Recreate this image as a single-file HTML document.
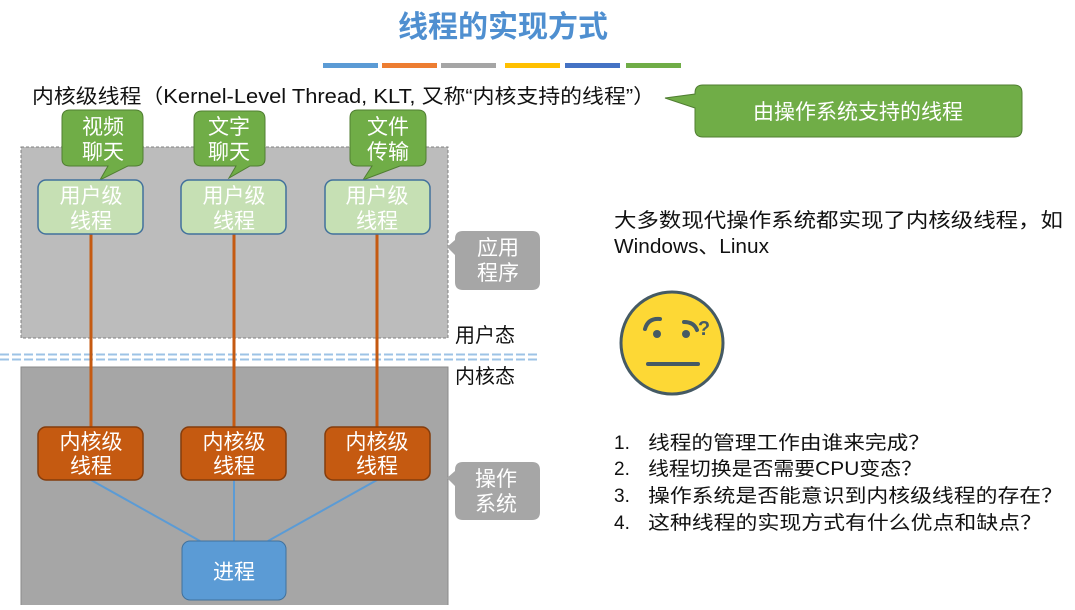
<!DOCTYPE html><html><head><meta charset="utf-8"><style>
body{margin:0;width:1075px;height:605px;overflow:hidden;background:#fff;font-family:"Liberation Sans","Noto Sans CJK SC",sans-serif}
</style></head><body>
<svg width="1075" height="605" xmlns="http://www.w3.org/2000/svg" style="font-family:'Liberation Sans','Noto Sans CJK SC',sans-serif">
<text x="503" y="37" text-anchor="middle" font-size="30" fill="#4f8fd0" font-weight="bold">线程的实现方式</text>
<rect x="323" y="63" width="55" height="5" fill="#5b9bd5"/><rect x="382" y="63" width="55" height="5" fill="#ed7d31"/><rect x="441" y="63" width="55" height="5" fill="#a5a5a5"/><rect x="505" y="63" width="55" height="5" fill="#ffc000"/><rect x="565" y="63" width="55" height="5" fill="#4472c4"/><rect x="626" y="63" width="55" height="5" fill="#70ad47"/>
<text x="32" y="103" font-size="20" fill="#111" textLength="623" lengthAdjust="spacingAndGlyphs">内核级线程（Kernel-Level Thread, KLT, 又称“内核支持的线程”）</text>
<path d="M703 85 H1014 Q1022 85 1022 93 V129 Q1022 137 1014 137 H703 Q695 137 695 129 V108 L665 98 L695 94 V93 Q695 85 703 85Z" fill="#70ad47" stroke="#507e32"/>
<text x="858" y="119" text-anchor="middle" font-size="21" fill="#fff">由操作系统支持的线程</text>
<rect x="21" y="147" width="427" height="191" fill="#bcbcbc" stroke="#808080" stroke-dasharray="3,2"/>
<line x1="0" y1="354.5" x2="540" y2="354.5" stroke="#9dc3e6" stroke-width="2" stroke-dasharray="9,3"/>
<line x1="0" y1="359.5" x2="540" y2="359.5" stroke="#9dc3e6" stroke-width="2" stroke-dasharray="9,3"/>
<rect x="21" y="367" width="427" height="240" fill="#a6a6a6" stroke="#8a8a8a"/>
<g fill="#70ad47" stroke="#507e32">
<path d="M70 110 H135 Q143 110 143 118 V159 Q143 166 135 166 H128 L100 180 L108 166 H70 Q62 166 62 159 V118 Q62 110 70 110Z"/>
<path d="M202 111 H257 Q265 111 265 119 V159 Q265 166 257 166 H250 L229 178 L236 166 H202 Q194 166 194 159 V119 Q194 111 202 111Z"/>
<path d="M358 110 H418 Q426 110 426 118 V159 Q426 166 418 166 H400 L363 180 L372 166 H358 Q350 166 350 159 V118 Q350 110 358 110Z"/>
</g>
<g font-size="21" fill="#fff" text-anchor="middle"><text x="103" y="134">视频</text><text x="103" y="159">聊天</text><text x="229" y="134">文字</text><text x="229" y="159">聊天</text><text x="388" y="134">文件</text><text x="388" y="159">传输</text></g>
<g stroke="#c55a11" stroke-width="3"><line x1="91" y1="234" x2="91" y2="427"/><line x1="234" y1="234" x2="234" y2="427"/><line x1="377" y1="234" x2="377" y2="427"/></g>
<g fill="#c6e0b4" stroke="#41719c" stroke-width="1.5"><rect x="38" y="180" width="105" height="54" rx="8"/><rect x="181" y="180" width="105" height="54" rx="8"/><rect x="325" y="180" width="105" height="54" rx="8"/></g>
<g font-size="21" fill="#fff" text-anchor="middle"><text x="91" y="203">用户级</text><text x="91" y="228">线程</text><text x="234" y="203">用户级</text><text x="234" y="228">线程</text><text x="377" y="203">用户级</text><text x="377" y="228">线程</text></g>
<g stroke="#5b9bd5" stroke-width="2"><line x1="91" y1="480" x2="200" y2="541"/><line x1="234" y1="480" x2="234" y2="541"/><line x1="377" y1="480" x2="268" y2="541"/></g>
<g fill="#c55a11" stroke="#843c0c" stroke-width="1.5"><rect x="38" y="427" width="105" height="53" rx="8"/><rect x="181" y="427" width="105" height="53" rx="8"/><rect x="325" y="427" width="105" height="53" rx="8"/></g>
<g font-size="21" fill="#fff" text-anchor="middle"><text x="91" y="449">内核级</text><text x="91" y="473">线程</text><text x="234" y="449">内核级</text><text x="234" y="473">线程</text><text x="377" y="449">内核级</text><text x="377" y="473">线程</text></g>
<rect x="182" y="541" width="104" height="59" rx="8" fill="#5b9bd5" stroke="#41719c"/>
<text x="234" y="579" text-anchor="middle" font-size="21" fill="#fff">进程</text>
<path d="M463 231 H532 Q540 231 540 239 V282 Q540 290 532 290 H463 Q455 290 455 282 V255 L447 247 L455 240 V239 Q455 231 463 231Z" fill="#a6a6a6"/>
<path d="M463 462 H532 Q540 462 540 470 V512 Q540 520 532 520 H463 Q455 520 455 512 V486 L447 478 L455 471 V470 Q455 462 463 462Z" fill="#a6a6a6"/>
<g font-size="21" fill="#fff" text-anchor="middle"><text x="498" y="255">应用</text><text x="498" y="280">程序</text><text x="496" y="486">操作</text><text x="496" y="511">系统</text></g>
<text x="455" y="342" font-size="20" fill="#111">用户态</text>
<text x="455" y="383" font-size="20" fill="#111">内核态</text>
<text x="614" y="227" font-size="20" fill="#111" textLength="449" lengthAdjust="spacingAndGlyphs">大多数现代操作系统都实现了内核级线程，如</text>
<text x="614" y="253" font-size="20" fill="#111" textLength="155" lengthAdjust="spacingAndGlyphs">Windows、Linux</text>
<circle cx="672" cy="343" r="51" fill="#fdd835" stroke="#455a64" stroke-width="3"/>
<g stroke="#455a64" stroke-width="4" fill="none" stroke-linecap="round"><path d="M645 329 Q648 318 660 319"/><path d="M684 322 Q694 322 697 330"/><line x1="648" y1="364" x2="698" y2="364"/></g>
<circle cx="657" cy="334" r="4" fill="#455a64"/><circle cx="686" cy="334" r="4" fill="#455a64"/>
<text x="704" y="335" font-size="20" font-weight="bold" fill="#455a64" text-anchor="middle">?</text>
<g font-size="19" fill="#111"><text x="614" y="449">1.</text><text x="614" y="475">2.</text><text x="614" y="502">3.</text><text x="614" y="529">4.</text>
<text x="648" y="449" textLength="282" lengthAdjust="spacingAndGlyphs">线程的管理工作由谁来完成？</text><text x="648" y="475" textLength="274" lengthAdjust="spacingAndGlyphs">线程切换是否需要CPU变态？</text><text x="648" y="502" textLength="415" lengthAdjust="spacingAndGlyphs">操作系统是否能意识到内核级线程的存在？</text><text x="648" y="529" textLength="394" lengthAdjust="spacingAndGlyphs">这种线程的实现方式有什么优点和缺点？</text></g>
</svg>
</body></html>
